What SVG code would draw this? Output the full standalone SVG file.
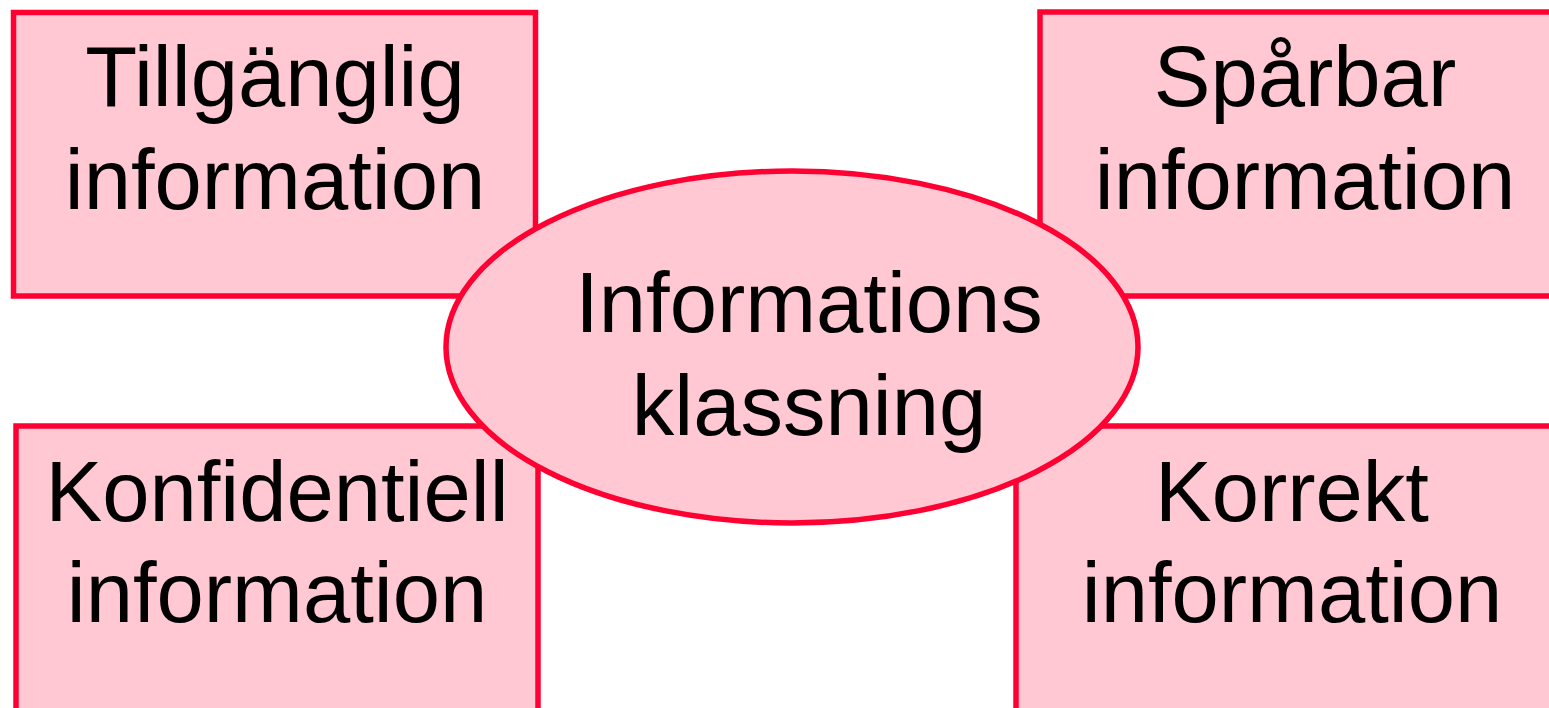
<svg xmlns="http://www.w3.org/2000/svg" width="1549" height="708" viewBox="0 0 1549 708">
<style>
.box{fill:#FFC8D3;stroke:#FF0033;stroke-width:5.5}
.t{font-family:"Liberation Sans",Arial,sans-serif;font-size:85px;fill:#000;text-anchor:middle}
</style>
<rect width="1549" height="708" fill="#fff"/>
<g id="tillganglig">
<rect class="box" x="13.5" y="12.5" width="522" height="283.5"/>
<text class="t" x="275" y="106">Tillgänglig</text>
<text class="t" x="275" y="209">information</text>
</g>
<g id="sparbar">
<rect class="box" x="1040" y="12" width="540" height="284"/>
<text class="t" x="1305" y="106">Spårbar</text>
<text class="t" x="1305" y="209">information</text>
</g>
<g id="konfidentiell">
<rect class="box" x="16" y="426" width="522" height="300"/>
<text class="t" x="277" y="521">Konfidentiell</text>
<text class="t" x="277" y="622">information</text>
</g>
<g id="korrekt">
<rect class="box" x="1016" y="426" width="560" height="300"/>
<text class="t" x="1292" y="521">Korrekt</text>
<text class="t" x="1292" y="622">information</text>
</g>
<g id="connectors"></g>
<g id="informationsklassning">
<ellipse class="box" cx="792" cy="347" rx="346" ry="176"/>
<text class="t" x="809" y="332">Informations</text>
<text class="t" x="809" y="435">klassning</text>
</g>
</svg>
